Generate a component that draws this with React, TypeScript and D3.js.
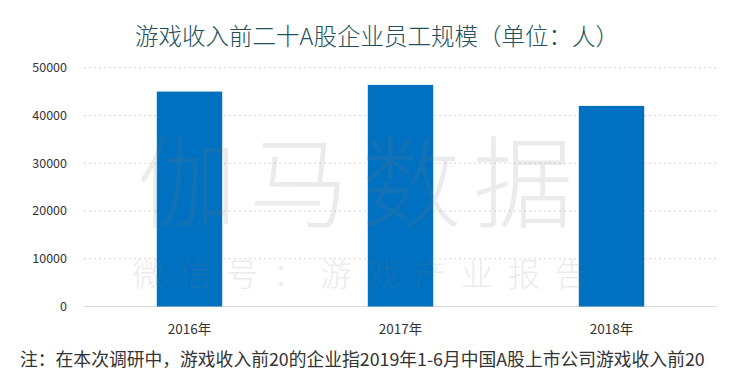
import { useEffect, useRef } from 'react';
import * as d3 from 'd3';

const years = ['2016年', '2017年', '2018年'];
const employees = [45000, 46400, 42000];
const yTicks = [0, 10000, 20000, 30000, 40000, 50000];

const title = '游戏收入前二十A股企业员工规模（单位：人）';
const note = '注：在本次调研中，游戏收入前20的企业指2019年1-6月中国A股上市公司游戏收入前20';

const width = 750;
const height = 383;

const App = () => {
  const ref = useRef<SVGSVGElement>(null);

  useEffect(() => {
    const svg = d3.select(ref.current);
    svg.selectAll('*').remove();

    const font = '"Microsoft YaHei", "Noto Sans CJK SC", sans-serif';
    const left = 84;
    const right = 717;
    const top = 67.7;
    const bottom = 306.5;

    const x = d3.scaleBand().domain(years).range([left, right]).paddingInner(0.69).paddingOuter(0.345);
    const y = d3.scaleLinear().domain([0, 50000]).range([bottom, top]);

    svg.append('rect').attr('width', width).attr('height', height).attr('fill', '#fff');

    // title
    svg.append('text')
      .attr('x', 377).attr('y', 45)
      .attr('text-anchor', 'middle')
      .attr('font-family', font).attr('font-size', 23.5).attr('font-weight', 300)
      .attr('fill', '#22505e')
      .text(title);

    // gridlines
    svg.append('g').selectAll('line')
      .data(yTicks.filter(d => d > 0))
      .enter().append('line')
      .attr('x1', left).attr('x2', right)
      .attr('y1', d => y(d)).attr('y2', d => y(d))
      .attr('stroke', '#d6d6d6').attr('stroke-width', 1)
      .attr('stroke-dasharray', '2,3');

    svg.append('line')
      .attr('x1', left).attr('x2', right)
      .attr('y1', y(0)).attr('y2', y(0))
      .attr('stroke', '#d9d9d9').attr('stroke-width', 1);

    // y labels
    svg.append('g').selectAll('text')
      .data(yTicks)
      .enter().append('text')
      .attr('x', 67).attr('y', d => y(d) + 4.5)
      .attr('text-anchor', 'end')
      .attr('font-family', font).attr('font-size', 12.5)
      .attr('fill', '#333')
      .text(d => String(d));

    // bars
    svg.append('g').selectAll('rect')
      .data(employees)
      .enter().append('rect')
      .attr('x', (_, i) => x(years[i])!)
      .attr('width', x.bandwidth())
      .attr('y', d => y(d))
      .attr('height', d => y(0) - y(d))
      .attr('fill', '#0070c0');

    // x labels
    svg.append('g').selectAll('text')
      .data(years)
      .enter().append('text')
      .attr('x', d => x(d)! + x.bandwidth() / 2)
      .attr('y', 334)
      .attr('text-anchor', 'middle')
      .attr('font-family', font).attr('font-size', 13.5)
      .attr('fill', '#333')
      .text(d => d);

    // watermark
    const wm = svg.append('g').attr('fill', '#808080').attr('opacity', 0.15).attr('font-family', font).attr('font-weight', 300);
    wm.append('text')
      .attr('x', 137).attr('y', 220)
      .attr('font-size', 100).attr('letter-spacing', 12)
      .text('伽马数据');
    wm.append('text')
      .attr('x', 132).attr('y', 286)
      .attr('font-size', 32).attr('letter-spacing', 15)
      .text('微信号：游戏产业报告');

    // note
    svg.append('text')
      .attr('x', 20).attr('y', 366)
      .attr('font-family', font).attr('font-size', 17.8)
      .attr('fill', '#333')
      .text(note);
  }, []);

  return <svg ref={ref} width={width} height={height} style={{ display: 'block', margin: -8 }} />;
};

export default App;
